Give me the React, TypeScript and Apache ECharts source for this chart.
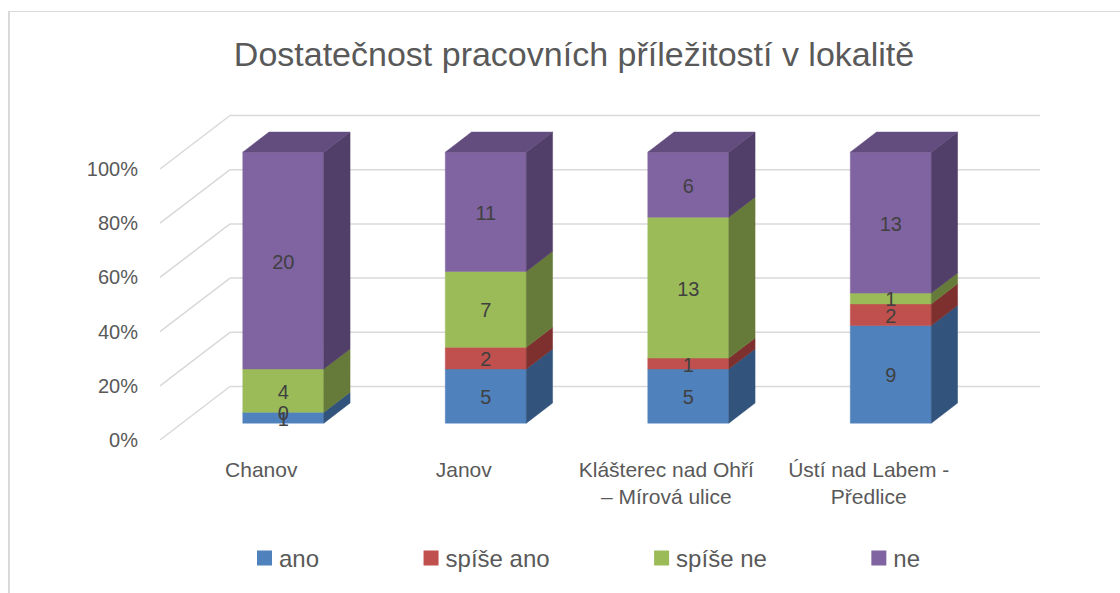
import React, { useEffect, useRef } from "react";
import * as echarts from "echarts";

// ---- data ----
const categories = [
  "Chanov",
  "Janov",
  "Klášterec nad Ohří\n– Mírová ulice",
  "Ústí nad Labem -\nPředlice",
];
const seriesNames = ["ano", "spíše ano", "spíše ne", "ne"];
const ano = [1, 5, 5, 9];
const spiseAno = [0, 2, 1, 2];
const spiseNe = [4, 7, 13, 1];
const ne = [20, 11, 6, 13];
const yTicks = [0, 20, 40, 60, 80, 100];
const titleText = "Dostatečnost pracovních příležitostí v lokalitě";

// ---- styles ----
const frontColors = ["#4F81BD", "#C0504D", "#9BBB59", "#8064A2"];
const sideColors = ["#31537C", "#7E302E", "#667A39", "#523F69"];
const topColor = "#624D7E";
const gridColor = "#D9D9D9";
const textColor = "#595959";
const FONT = '"Liberation Sans", Arial, sans-serif';

// 3D depth vector of the floor (pixels) and bar placement within depth
const DX = 70;
const DY = -53.5;
const FRONT = 0.315;
const BACK = 0.69;
const BAR_RATIO = 0.4;

const groups = [ano, spiseAno, spiseNe, ne];

function buildSegments() {
  const segs: number[][][] = groups.map(() => []);
  categories.forEach((_, ci) => {
    const total = groups.reduce((s, g) => s + g[ci], 0);
    let acc = 0;
    groups.forEach((g, si) => {
      const start = (acc / total) * 100;
      acc += g[ci];
      const end = (acc / total) * 100;
      segs[si].push([ci, start, end, g[ci]]);
    });
  });
  return segs;
}

export default function App() {
  const ref = useRef<HTMLDivElement>(null);

  useEffect(() => {
    if (!ref.current) return;
    const chart = echarts.init(ref.current, undefined, { renderer: "svg" });
    const segs = buildSegments();

    const fx = DX * FRONT;
    const fy = DY * FRONT;
    const ddx = DX * (BACK - FRONT);
    const ddy = DY * (BACK - FRONT);

    const barSeries = seriesNames.map((name, si) => ({
      type: "custom",
      name,
      z: 2,
      itemStyle: { color: frontColors[si] },
      encode: { x: 0, y: [1, 2] },
      data: segs[si],
      renderItem: (params: any, api: any) => {
        const cat = api.value(0);
        const y0 = api.value(1);
        const y1 = api.value(2);
        const pS = api.coord([cat, y0]);
        const pE = api.coord([cat, y1]);
        const band = api.size([1, 0])[0];
        const bw = band * BAR_RATIO;
        const L = pS[0] - bw / 2 + fx;
        const R = pS[0] + bw / 2 + fx;
        const yb = pS[1] + fy;
        const yt = pE[1] + fy;
        const children: any[] = [];
        if (yb - yt > 0.01) {
          children.push({
            type: "polygon",
            shape: { points: [[L, yt], [R, yt], [R, yb], [L, yb]] },
            style: { fill: frontColors[si], stroke: frontColors[si], lineWidth: 0.5 },
          });
          children.push({
            type: "polygon",
            shape: {
              points: [[R, yt], [R + ddx, yt + ddy], [R + ddx, yb + ddy], [R, yb]],
            },
            style: { fill: sideColors[si], stroke: sideColors[si], lineWidth: 0.5 },
          });
        }
        if (si === seriesNames.length - 1) {
          children.push({
            type: "polygon",
            shape: {
              points: [[L, yt], [R, yt], [R + ddx, yt + ddy], [L + ddx, yt + ddy]],
            },
            style: { fill: topColor, stroke: topColor, lineWidth: 0.5 },
          });
        }
        return { type: "group", children };
      },
    }));

    const labelData: number[][] = [];
    segs.forEach((s) => s.forEach((d) => labelData.push(d)));

    const option: any = {
      animation: false,
      textStyle: { fontFamily: FONT },
      graphic: [
        {
          type: "line",
          shape: { x1: 9, y1: 11.5, x2: 1120, y2: 11.5 },
          style: { stroke: gridColor, lineWidth: 1 },
        },
        {
          type: "line",
          shape: { x1: 9, y1: 11, x2: 9, y2: 593 },
          style: { stroke: gridColor, lineWidth: 2 },
        },
        {
          type: "text",
          x: 574,
          y: 54,
          style: {
            text: titleText,
            fill: textColor,
            fontSize: 34,
            fontFamily: FONT,
            align: "center",
            verticalAlign: "middle",
          },
        },
      ],
      legend: {
        data: seriesNames,
        left: 252,
        top: 541,
        icon: "rect",
        itemWidth: 15,
        itemHeight: 15,
        itemGap: 104.5,
        textStyle: { fontSize: 24, color: textColor, fontFamily: FONT, padding: [0, 0, 0, 2] },
      },
      grid: {
        left: 160,
        top: 169,
        width: 810,
        height: 271,
        containLabel: false,
        outerBoundsMode: "none",
      },
      xAxis: {
        type: "category",
        data: categories,
        axisLine: { show: false },
        axisTick: { show: false },
        splitLine: { show: false },
        axisLabel: {
          interval: 0,
          margin: 16,
          fontSize: 21,
          lineHeight: 27,
          color: textColor,
          fontFamily: FONT,
        },
      },
      yAxis: {
        type: "value",
        min: 0,
        max: 100,
        interval: 20,
        axisLine: { show: false },
        axisTick: { show: false },
        splitLine: { show: false },
        axisLabel: {
          formatter: "{value}%",
          margin: 22,
          fontSize: 20,
          color: textColor,
          fontFamily: FONT,
        },
      },
      series: [
        {
          type: "custom",
          name: "walls",
          z: 1,
          silent: true,
          encode: { x: 0, y: 1 },
          data: yTicks.map((v) => [0, v]),
          renderItem: (params: any, api: any) => {
            const v = api.value(1);
            const p = api.coord([0, v]);
            const cs = params.coordSys;
            const x0 = cs.x;
            const x1 = cs.x + cs.width;
            const y = p[1];
            return {
              type: "group",
              children: [
                {
                  type: "line",
                  shape: { x1: x0, y1: y, x2: x0 + DX, y2: y + DY },
                  style: { stroke: gridColor, lineWidth: 1.5 },
                },
                {
                  type: "line",
                  shape: { x1: x0 + DX, y1: y + DY, x2: x1 + DX, y2: y + DY },
                  style: { stroke: gridColor, lineWidth: 1.5 },
                },
              ],
            };
          },
        },
        ...barSeries,
        {
          type: "custom",
          name: "labels",
          z: 5,
          silent: true,
          encode: { x: 0, y: [1, 2] },
          data: labelData,
          renderItem: (params: any, api: any) => {
            const cat = api.value(0);
            const mid = (api.value(1) + api.value(2)) / 2;
            const p = api.coord([cat, mid]);
            return {
              type: "text",
              x: p[0] + fx,
              y: p[1] + fy + 1,
              style: {
                text: String(api.value(3)),
                fill: "#404040",
                fontSize: 20,
                fontFamily: FONT,
                align: "center",
                verticalAlign: "middle",
              },
            };
          },
        },
      ],
    };

    chart.setOption(option);
    return () => chart.dispose();
  }, []);

  return (
    <div
      ref={ref}
      style={{ position: "absolute", left: 0, top: 0, width: 1120, height: 593, background: "#fff" }}
    />
  );
}
